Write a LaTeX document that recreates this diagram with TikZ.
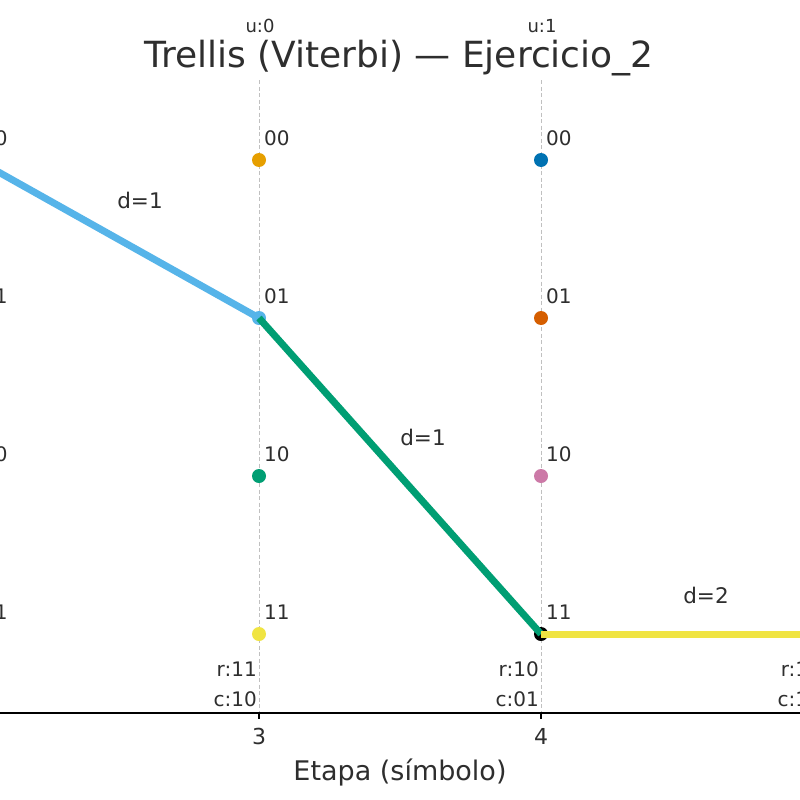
\documentclass[tikz,border=0pt]{standalone}
\usepackage{fontspec}
\setmainfont{DejaVu Sans}
\definecolor{txt}{HTML}{2E2E2E}
\definecolor{oiorange}{HTML}{E69F00}
\definecolor{oisky}{HTML}{56B4E9}
\definecolor{oigreen}{HTML}{009E73}
\definecolor{oiyellow}{HTML}{F0E442}
\definecolor{oiblue}{HTML}{0072B2}
\definecolor{oiverm}{HTML}{D55E00}
\definecolor{oipurple}{HTML}{CC79A7}
\definecolor{gridc}{HTML}{C0C0C0}
\begin{document}
\begin{tikzpicture}[x=1pt,y=-1pt,
  dot/.style={circle,inner sep=0pt,minimum size=14pt,fill=#1},
  stlabel/.style={anchor=base west,inner sep=0pt,text=txt,font=\fontsize{20}{20}\selectfont},
  ulabel/.style={anchor=base,inner sep=0pt,text=txt,font=\fontsize{18}{18}\selectfont},
  rclabel/.style={anchor=base east,inner sep=0pt,text=txt,font=\fontsize{20}{20}\selectfont},
  dlabel/.style={anchor=base,inner sep=0pt,text=txt,font=\fontsize{21.5}{21.5}\selectfont},
  ticklabel/.style={anchor=base,inner sep=0pt,text=txt,font=\fontsize{22}{22}\selectfont},
  gridline/.style={draw=gridc,line width=1pt,dash pattern=on 4pt off 2.5pt},
  pathline/.style={line width=7pt,draw=#1}]
\useasboundingbox (0,0) rectangle (800,800);
\fill[white] (0,0) rectangle (800,800);
% grid lines
\foreach \x/\n in {-23/g2,259/g3,541/g4,823/g5}{
  \coordinate (\n t) at (\x,80);
  \coordinate (\n b) at (\x,713);
  \draw[gridline] (\n t) -- (\n b);
}
% nodes
\node[dot=black] (a00) at (-23,160) {};
\node[dot=black] (a01) at (-23,318) {};
\node[dot=black] (a10) at (-23,476) {};
\node[dot=black] (a11) at (-23,634) {};
\node[dot=oiorange] (b00) at (259,160) {};
\node[dot=oisky] (b01) at (259,318) {};
\node[dot=oigreen] (b10) at (259,476) {};
\node[dot=oiyellow] (b11) at (259,634) {};
\node[dot=oiblue] (c00) at (541,160) {};
\node[dot=oiverm] (c01) at (541,318) {};
\node[dot=oipurple] (c10) at (541,476) {};
\node[dot=black] (c11) at (541,634) {};
\node[dot=black] (d11) at (823,634) {};
% state labels
\foreach \x in {-18,264,546}{
  \node[stlabel] at (\x,145) {00};
  \node[stlabel] at (\x,303) {01};
  \node[stlabel] at (\x,461) {10};
  \node[stlabel] at (\x,619) {11};
}
% surviving path
\draw[pathline=oisky] (a00.center) -- (b01.center);
\draw[pathline=oigreen] (b01.center) -- (c11.center);
\draw[pathline=oiyellow] (c11.center) -- (d11.center);
\node[dlabel] (d1) at (140,208) {d=1};
\node[dlabel] (d2) at (423,445) {d=1};
\node[dlabel] (d3) at (706,603) {d=2};
% u labels
\node[ulabel] (u0) at (260,33) {u:0};
\node[ulabel] (u1) at (542,33) {u:1};
% r / c labels
\node[rclabel] (r3) at (257,676) {r:11};
\node[rclabel] (c3) at (257,706) {c:10};
\node[rclabel] (r4) at (539,676) {r:10};
\node[rclabel] (c4) at (539,706) {c:01};
\node[rclabel] (r5) at (821,676) {r:11};
\node[rclabel] (c5) at (821,706) {c:11};
% axis
\coordinate (axl) at (0,713);
\coordinate (axr) at (800,713);
\draw[black,line width=2pt] (axl) -- (axr);
\coordinate (t3) at (259,713); \coordinate (t3b) at (259,719);
\coordinate (t4) at (541,713); \coordinate (t4b) at (541,719);
\draw[black,line width=1.4pt] (t3) -- (t3b);
\draw[black,line width=1.4pt] (t4) -- (t4b);
\node[ticklabel] (n3) at (259,744) {3};
\node[ticklabel] (n4) at (541,744) {4};
\node[anchor=base,inner sep=0pt,text=txt,font=\fontsize{27}{27}\selectfont] (xl) at (400,780) {Etapa (símbolo)};
\node[anchor=base,inner sep=0pt,text=txt,font=\fontsize{36}{36}\selectfont] (title) at (399,67) {Trellis (Viterbi) — Ejercicio\_2};
\end{tikzpicture}
\end{document}
